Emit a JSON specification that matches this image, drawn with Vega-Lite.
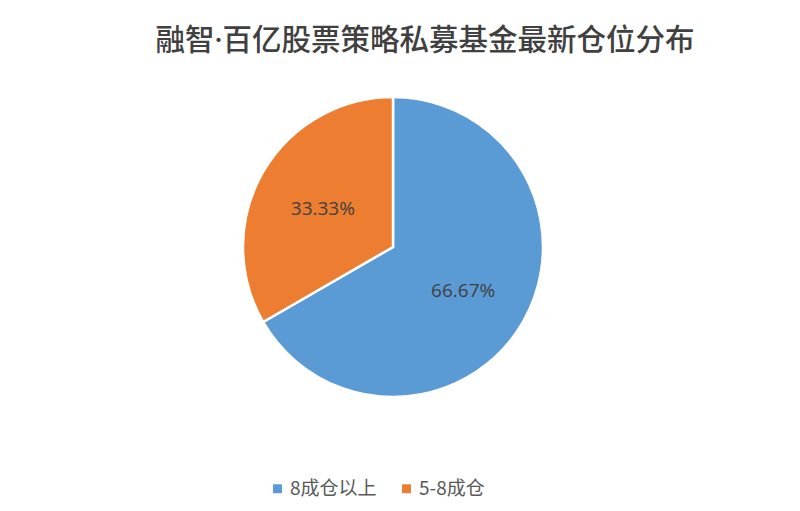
{
  "$schema": "https://vega.github.io/schema/vega-lite/v6.json",
  "autosize": {"type": "none"},
  "width": 786,
  "height": 300,
  "padding": {"left": 0, "top": 97, "right": 14, "bottom": 114},
  "background": "white",
  "title": {
    "text": "融智·百亿股票策略私募基金最新仓位分布",
    "font": "Noto Sans, Noto Sans CJK SC",
    "fontSize": 29.5,
    "fontWeight": 500,
    "color": "#404040",
    "anchor": "middle",
    "dx": 32,
    "offset": 36
  },
  "data": {
    "values": [
      {"category": "8成仓以上", "share": 0.6667, "rank": 1},
      {"category": "5-8成仓", "share": 0.3333, "rank": 2}
    ]
  },
  "encoding": {
    "theta": {"field": "share", "type": "quantitative", "stack": true},
    "order": {"field": "rank", "type": "quantitative"},
    "color": {
      "field": "category",
      "type": "nominal",
      "scale": {"domain": ["8成仓以上", "5-8成仓"], "range": ["#5B9BD5", "#ED7D31"]},
      "legend": {
        "orient": "none",
        "direction": "horizontal",
        "legendX": 268,
        "legendY": 382,
        "title": null,
        "symbolType": "square",
        "symbolSize": 80,
        "symbolStrokeWidth": 0,
        "labelFont": "Noto Sans CJK SC",
        "labelFontSize": 19,
        "labelColor": "#595959",
        "columnPadding": 20,
        "labelOffset": 3
      }
    }
  },
  "layer": [
    {"mark": {"type": "arc", "outerRadius": 150, "stroke": "white", "strokeWidth": 2.5}},
    {
      "mark": {"type": "text", "radius": 81, "dy": 3, "font": "Open Sans", "fontSize": 19, "color": "#404040"},
      "encoding": {
        "text": {"field": "share", "type": "quantitative", "format": ".2%"},
        "color": {"value": "#404040"}
      }
    }
  ],
  "config": {"view": {"stroke": null}}
}
